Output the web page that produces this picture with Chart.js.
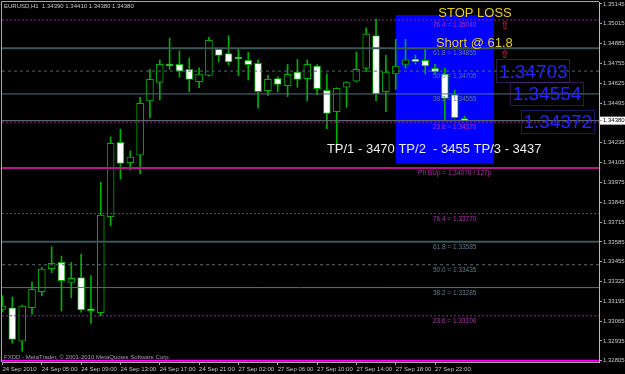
<!DOCTYPE html>
<html>
<head>
<meta charset="utf-8">
<title>EURUSD,H1</title>
<script src="https://cdn.jsdelivr.net/npm/chart.js@4.4.0/dist/chart.umd.min.js"></script>
<style>
  html, body { margin: 0; padding: 0; background: #000; }
  #myChart { display: block; background: #000; }
</style>
</head>
<body>
<canvas id="myChart" width="625" height="374"></canvas>
<script>
// EURUSD H1 candles, 24 Sep 2010 01:00 .. 28 Sep 01:00
const opens = [1.33142, 1.33153, 1.32934, 1.33153, 1.33258, 1.33409, 1.33451, 1.33319, 1.33350, 1.33135,
    1.33120, 1.33750, 1.34238, 1.34104, 1.34154, 1.34509, 1.34631, 1.34740, 1.34749, 1.34717,
    1.34635, 1.34677, 1.34848, 1.34819, 1.34786, 1.34776, 1.34756, 1.34576, 1.34655, 1.34609,
    1.34699, 1.34655, 1.34738, 1.34579, 1.34438, 1.34599, 1.34638, 1.34723, 1.34937, 1.34570,
    1.34686, 1.34749, 1.34784, 1.34776, 1.34723, 1.34686, 1.34550, 1.34390];
const highs = [1.33231, 1.33223, 1.33170, 1.33321, 1.33418, 1.33553, 1.33492, 1.33451, 1.33503, 1.33363,
    1.33975, 1.34274, 1.34325, 1.34181, 1.34533, 1.34717, 1.34778, 1.34920, 1.34837, 1.34789,
    1.34727, 1.34927, 1.34854, 1.34937, 1.34850, 1.34828, 1.34778, 1.34677, 1.34668, 1.34749,
    1.34780, 1.34778, 1.34747, 1.34686, 1.34595, 1.34636, 1.34830, 1.34988, 1.35047, 1.34810,
    1.34913, 1.34913, 1.34810, 1.34848, 1.34749, 1.34723, 1.34581, 1.34410];
const lows = [1.33125, 1.32919, 1.32868, 1.33111, 1.33231, 1.33382, 1.33131, 1.33218, 1.33123, 1.33050,
    1.33100, 1.33689, 1.33997, 1.34056, 1.34030, 1.34399, 1.34515, 1.34717, 1.34664, 1.34570,
    1.34596, 1.34672, 1.34765, 1.34745, 1.34675, 1.34646, 1.34461, 1.34546, 1.34568, 1.34537,
    1.34599, 1.34509, 1.34550, 1.34327, 1.34180, 1.34467, 1.34633, 1.34701, 1.34511, 1.34438,
    1.34585, 1.34723, 1.34751, 1.34686, 1.34690, 1.34384, 1.34395, 1.34380];
const closes = [1.33164, 1.32945, 1.33164, 1.33273, 1.33407, 1.33444, 1.33330, 1.33346, 1.33138, 1.33133,
    1.33761, 1.34231, 1.34100, 1.34141, 1.34494, 1.34651, 1.34749, 1.34738, 1.34705, 1.34651,
    1.34686, 1.34907, 1.34808, 1.34765, 1.34784, 1.34747, 1.34570, 1.34651, 1.34618, 1.34684,
    1.34651, 1.34749, 1.34589, 1.34428, 1.34592, 1.34633, 1.34717, 1.34948, 1.34555, 1.34699,
    1.34738, 1.34778, 1.34766, 1.34738, 1.34699, 1.34526, 1.34399, 1.34380];

// time axis labels (every 4 bars)
const xTickIndex = [0, 4, 8, 12, 16, 20, 24, 28, 32, 36, 40, 44];
const xTickLabels = ["24 Sep 2010", "24 Sep 05:00", "24 Sep 09:00", "24 Sep 13:00", "24 Sep 17:00", "24 Sep 21:00",
    "27 Sep 02:00", "27 Sep 06:00", "27 Sep 10:00", "27 Sep 14:00", "27 Sep 18:00", "27 Sep 22:00"];

// price axis labels
const yTicks = [1.35145, 1.35015, 1.34885, 1.34755, 1.34625, 1.34495, 1.34380, 1.34235, 1.34105, 1.33975,
    1.33845, 1.33715, 1.33585, 1.33455, 1.33325, 1.33195, 1.33065, 1.32935, 1.32805];
const bidPrice = 1.34380;

// fibo levels
const fibRatios = ["76.4", "61.8", "50.0", "38.2", "23.6"];
const fibUpper = [1.35040, 1.34855, 1.34705, 1.34555, 1.34370];
const fibLower = [1.33770, 1.33585, 1.33435, 1.33285, 1.33100];
const pivotUp = 1.34070;
const pivotPips = 127;
const pivotDown = 1.32805;

// trade zone + targets
const zoneX = [40, 50];
const zonePrices = [1.35073, 1.34095];
const targets = [1.34703, 1.34554, 1.34372];
const targetX = [50.5, 51.9, 53.0];
const notes = ["STOP LOSS", "Short @ 61.8", "TP/1 - 3470 TP/2  - 3455 TP/3 - 3437"];
const noteX = [48.07, 48.0, 33.0];
const notePrice = [1.35086, 1.34889, 1.34194];
const arrowX = 51.1;

const xMin = -0.05, xMax = 60.68;
const yMin = 1.32797, yMax = 1.35158;

const green = "#00b000";
const fibColors = { "76.4": "#a020a0", "61.8": "#3a5656", "50.0": "#4e6c6c", "38.2": "#4f7484", "23.6": "#a020a0" };
const fibDash = { "76.4": [2, 2], "61.8": [], "50.0": [3, 3], "38.2": [], "23.6": [2, 2] };
const fibWidth = { "76.4": 1, "61.8": 2, "50.0": 1, "38.2": 1, "23.6": 1 };
const fibLabelColors = { "76.4": "#b030b0", "61.8": "#60788a", "50.0": "#60788a", "38.2": "#60788a", "23.6": "#b030b0" };

const idx = opens.map((o, i) => i);
const bodyData = idx.map(i => ({ x: i, y: [opens[i], closes[i]] }));
const wickData = idx.map(i => ({ x: i, y: [lows[i], highs[i]] }));
const bodyFill = idx.map(i => closes[i] >= opens[i] ? "#000000" : "#ffffff");

function hLine(price, color, dash, width) {
    return {
        type: "line",
        data: [{ x: xMin, y: price }, { x: xMax, y: price }],
        borderColor: color,
        borderDash: dash,
        borderWidth: width,
        pointRadius: 0,
        fill: false,
        order: 1
    };
}

const lines = [];
fibRatios.forEach((r, i) => {
    lines.push(hLine(fibUpper[i], fibColors[r], fibDash[r], fibWidth[r]));
    lines.push(hLine(fibLower[i], fibColors[r], fibDash[r], fibWidth[r]));
});
lines.push(hLine(bidPrice, "#687878", [], 1));
lines.push(hLine(pivotUp, "#b8148e", [], 2));
lines.push(hLine(pivotDown, "#ff00ff", [], 2));

// text objects, frame, bid label
const overlay = {
    id: "overlay",
    beforeDraw(chart) {
        const { ctx, scales: { y } } = chart;
        const py = y.getPixelForValue(bidPrice);
        ctx.save();
        ctx.fillStyle = "#ffffff";
        ctx.fillRect(y.left + 1, py - 4, 25, 8);
        ctx.restore();
    },
    afterDatasetsDraw(chart) {
        const { ctx, chartArea: a, scales: { x, y } } = chart;
        ctx.save();

        // frame
        ctx.strokeStyle = "#a8a8a8";
        ctx.lineWidth = 1;
        ctx.beginPath();
        ctx.moveTo(a.left - 0.5, a.bottom);
        ctx.lineTo(a.left - 0.5, a.top - 0.5);
        ctx.lineTo(a.right, a.top - 0.5);
        ctx.stroke();

        // fibo labels
        ctx.font = '6.5px "Liberation Sans"';
        ctx.textAlign = "center";
        ctx.textBaseline = "top";
        const fx = x.getPixelForValue(46);
        fibRatios.forEach((r, i) => {
            ctx.fillStyle = fibLabelColors[r];
            ctx.fillText(r + " = " + fibUpper[i].toFixed(5), fx, y.getPixelForValue(fibUpper[i]) + 2);
            ctx.fillText(r + " = " + fibLower[i].toFixed(5), fx, y.getPixelForValue(fibLower[i]) + 2);
        });
        ctx.fillStyle = "#b030a8";
        ctx.fillText("Ph BUp = " + pivotUp.toFixed(5) + " / " + pivotPips + "p", fx, y.getPixelForValue(pivotUp) + 2);

        // arrows at SL and entry
        ctx.font = 'bold 11px "DejaVu Sans"';
        ctx.fillStyle = "#d01838";
        [fibUpper[0], fibUpper[1]].forEach(p => {
            ctx.fillText("\u21E7", x.getPixelForValue(arrowX), y.getPixelForValue(p) + 1);
        });

        // notes
        ctx.font = '13px "Liberation Sans"';
        ctx.textBaseline = "middle";
        ctx.fillStyle = "#e8cc2a";
        ctx.fillText(notes[0], x.getPixelForValue(noteX[0]), y.getPixelForValue(notePrice[0]));
        ctx.fillText(notes[1], x.getPixelForValue(noteX[1]), y.getPixelForValue(notePrice[1]));
        ctx.textAlign = "left";
        ctx.fillStyle = "#ececec";
        ctx.fillText(notes[2], x.getPixelForValue(noteX[2]), y.getPixelForValue(notePrice[2]));

        // target price boxes
        const boxColors = ["#5034a8", "#6a2a8c", "#3434c8"];
        ctx.font = '19px "Liberation Sans"';
        targets.forEach((t, i) => {
            const tx = x.getPixelForValue(targetX[i]);
            const ty = y.getPixelForValue(t);
            const s = t.toFixed(5);
            const w = ctx.measureText(s).width;
            ctx.setLineDash([1, 1]);
            ctx.strokeStyle = boxColors[i];
            ctx.strokeRect(Math.round(tx) - 2.5, Math.round(ty) - 11.5, Math.round(w) + 4, 23);
            ctx.setLineDash([]);
            ctx.fillStyle = "#2424ff";
            ctx.fillText(s, tx, ty + 1);
        });

        // header / footer
        ctx.font = '6px "Liberation Sans"';
        ctx.fillStyle = "#c8c8c8";
        const last = opens.length - 1;
        ctx.fillText("EURUSD,H1  " + opens[last].toFixed(5) + " " + highs[last].toFixed(5) + " " +
            lows[last].toFixed(5) + " " + closes[last].toFixed(5), a.left + 2, a.top + 4);
        ctx.fillStyle = "#a0a0a0";
        ctx.fillText("FXDD - MetaTrader, \u00A9 2001-2010 MetaQuotes Software Corp.", a.left + 2, a.bottom - 5);
        ctx.restore();
    }
};

const tickFont = { family: "Liberation Sans", size: 6 };

const config = {
    type: "bar",
    data: {
        datasets: [
            {
                type: "line",
                data: [{ x: zoneX[0], y: zonePrices[0] }, { x: zoneX[1], y: zonePrices[0] }],
                fill: "+1",
                backgroundColor: "#0000ff",
                borderWidth: 0,
                pointRadius: 0,
                order: 10
            },
            {
                type: "line",
                data: [{ x: zoneX[0], y: zonePrices[1] }, { x: zoneX[1], y: zonePrices[1] }],
                fill: false,
                borderWidth: 0,
                pointRadius: 0,
                order: 10
            },
            {
                data: wickData,
                backgroundColor: green,
                barThickness: 1,
                grouped: false,
                order: 5
            },
            {
                data: bodyData,
                backgroundColor: bodyFill,
                borderColor: green,
                borderWidth: 1,
                borderSkipped: false,
                barThickness: 7,
                minBarLength: 2,
                grouped: false,
                order: 4
            },
            ...lines
        ]
    },
    options: {
        responsive: false,
        animation: false,
        layout: { padding: { left: 2, top: 2, right: 0, bottom: 0 } },
        plugins: { legend: { display: false }, tooltip: { enabled: false } },
        scales: {
            x: {
                type: "linear",
                min: xMin,
                max: xMax,
                offset: false,
                afterBuildTicks: s => { s.ticks = xTickIndex.map(v => ({ value: v })); },
                afterFit: s => { s.height = 12; s.paddingLeft = 0; s.paddingRight = 0; },
                ticks: {
                    callback: (v, i) => xTickLabels[i],
                    align: "start",
                    maxRotation: 0,
                    autoSkip: false,
                    padding: 1,
                    color: "#c8c8c8",
                    font: tickFont
                },
                grid: { offset: false, drawOnChartArea: false, tickLength: 3, color: "#a8a8a8" },
                border: { color: "#a8a8a8" }
            },
            y: {
                type: "linear",
                position: "right",
                min: yMin,
                max: yMax,
                afterBuildTicks: s => { s.ticks = yTicks.map(v => ({ value: v })); },
                afterFit: s => { s.width = 26; s.paddingTop = 0; s.paddingBottom = 0; },
                ticks: {
                    callback: v => v.toFixed(5),
                    autoSkip: false,
                    padding: 1,
                    color: c => (c.tick && Math.abs(c.tick.value - bidPrice) < 1e-7) ? "#000000" : "#c8c8c8",
                    font: tickFont
                },
                grid: { drawOnChartArea: false, tickLength: 3, color: "#a8a8a8" },
                border: { color: "#b8b8b8" }
            }
        }
    },
    plugins: [overlay]
};

const chart = new Chart(document.getElementById("myChart"), config);
</script>
</body>
</html>
